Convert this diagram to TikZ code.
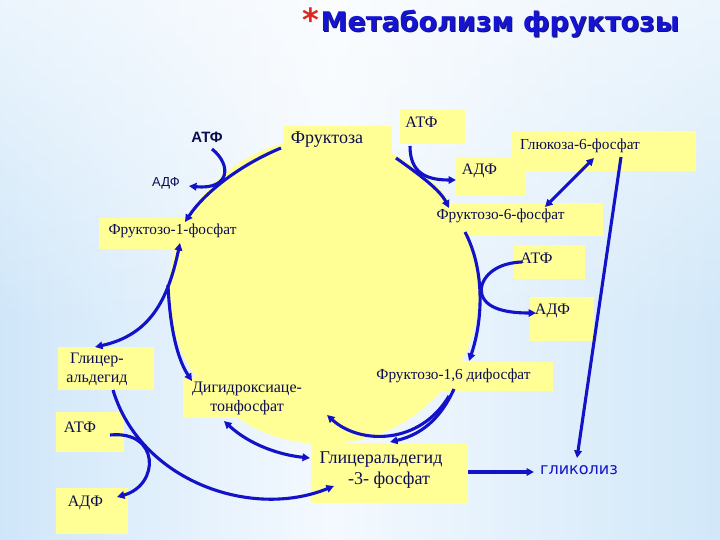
\documentclass[tikz,border=0pt]{standalone}
\usepackage{fontspec}
\setmainfont{Liberation Serif}
\newfontfamily\lsans{Liberation Sans}
\newfontfamily\dsans{DejaVu Sans}
\usetikzlibrary{arrows.meta,fadings}
\definecolor{bgL}{RGB}{165,208,242}
\definecolor{bgLm}{RGB}{212,233,250}
\definecolor{bgW}{RGB}{244,249,254}
\definecolor{bgRm}{RGB}{218,236,250}
\definecolor{bgR}{RGB}{178,216,244}
\definecolor{yel}{RGB}{255,255,150}
\definecolor{arr}{RGB}{18,18,200}
\definecolor{txt}{RGB}{12,12,80}
\definecolor{ttl}{RGB}{20,20,210}
\definecolor{ttlsh}{RGB}{20,20,90}
\definecolor{star}{RGB}{220,40,30}
\pgfdeclarehorizontalshading{bgsh}{100bp}{color(0bp)=(bgL); color(28bp)=(bgLm); color(48bp)=(bgW); color(68bp)=(bgRm); color(100bp)=(bgR)}
\tikzset{
  tip/.tip={Triangle[length=7.5pt,width=7.5pt]},
  conn/.style={draw=arr, line width=3.1pt, -tip},
  dconn/.style={draw=arr, line width=3.1pt, tip-tip},
  lbl/.style={font=\fontsize{16}{19}\selectfont, text=txt, inner sep=0pt, align=center},
  lbls/.style={font=\fontsize{15.3}{19}\selectfont, text=txt, inner sep=0pt, align=center},
  lblb/.style={font=\fontsize{18}{21}\selectfont, text=txt, inner sep=0pt, align=center},
  ybox/.style={fill=yel},
}
\begin{document}
\begin{tikzpicture}[x=1pt,y=-1pt]
\useasboundingbox (0,0) rectangle (720,540);
% background
\shade[shading=bgsh] (0,0) rectangle (720,540);
\fill[white, opacity=0.6, path fading=south] (0,0) rectangle (720,330);
% title
\node[font=\dsans\bfseries\fontsize{32}{32}\selectfont, text=star, inner sep=0pt] (ast) at (311,20) {*};
\node[font=\dsans\bfseries\fontsize{27}{30}\selectfont, text=ttlsh, inner sep=0pt, anchor=base] (titlesh) at (501,33) {Метаболизм фруктозы};
\node[font=\dsans\bfseries\fontsize{27}{30}\selectfont, text=ttl, inner sep=0pt, anchor=base] (title) at (500,32) {Метаболизм фруктозы};
% circle
\fill[yel] (324,291) ellipse [x radius=155pt, y radius=153pt];
% boxes
\fill[ybox] (283,126) rectangle (392,160);
\fill[ybox] (400,109) rectangle (465,144);
\fill[ybox] (512,131) rectangle (696,171);
\fill[ybox] (456,157) rectangle (525,195);
\fill[ybox] (433,203) rectangle (603,236);
\fill[ybox] (99,218) rectangle (242,249);
\fill[ybox] (514,245) rectangle (585,279);
\fill[ybox] (530,297) rectangle (594,341);
\fill[ybox] (366,362) rectangle (553,391);
\fill[ybox] (58,347) rectangle (154,390);
\fill[ybox] (183,377) rectangle (318,418);
\fill[ybox] (56,412) rectangle (124,452);
\fill[ybox] (56,488) rectangle (128,534);
\fill[ybox] (311,443) rectangle (468,503);
% labels
\node[lblb] (fru) at (327,140) {Фруктоза};
\node[lbl] (atp1) at (421.5,122.5) {АТФ};
\node[lbls] (g6p) at (580,146) {Глюкоза-6-фосфат};
\node[lbl] (adp1) at (479.5,171) {АДФ};
\node[lbls] (f6p) at (500.5,216) {Фруктозо-6-фосфат};
\node[lbls] (f1p) at (172.5,231) {Фруктозо-1-фосфат};
\node[font=\lsans\bfseries\fontsize{15}{18}\selectfont, text=txt, inner sep=0pt] (atp0) at (207,137.5) {АТФ};
\node[font=\lsans\fontsize{13}{16}\selectfont, text=txt, inner sep=0pt] (adp0) at (166,183) {АДФ};
\node[lbl] (atp2) at (536.5,258) {АТФ};
\node[lbl] (adp2) at (552.5,311) {АДФ};
\node[lbls] (fbp) at (453.5,376) {Фруктозо-1,6 дифосфат};
\node[lbl] (gal) at (97,369.5) {Глицер-\\альдегид};
\node[lbl] (dhap) at (247,398) {Дигидроксиаце-\\тонфосфат};
\node[lbl] (atp3) at (80,427) {АТФ};
\node[lbl] (adp3) at (85.5,503) {АДФ};
\node[lblb] (g3p) at (381,470.5) {Глицеральдегид\\\hspace*{16pt}-3- фосфат};
\node[font=\dsans\fontsize{16}{19}\selectfont, text=arr, inner sep=0pt] (gly) at (579,470) {гликолиз};
% connector end points
\coordinate (c1s) at (281,148);  \coordinate (c1e) at (185,222);
\coordinate (c2s) at (212,149);  \coordinate (c2e) at (189,186);
\coordinate (c3s) at (396,158);  \coordinate (c3e) at (449,208);
\coordinate (c4s) at (410,146);  \coordinate (c4e) at (456,180);
\coordinate (c5s) at (594,158);  \coordinate (c5e) at (545,207);
\coordinate (c6s) at (621,157);  \coordinate (c6e) at (577,458);
\coordinate (c7s) at (465,232);  \coordinate (c7e) at (469,361);
\coordinate (c8s) at (522,262);  \coordinate (c8m) at (482,295); \coordinate (c8e) at (536,313);
\coordinate (c9s) at (454,389);  \coordinate (c9e) at (390,442);
\coordinate (c10s) at (449,396); \coordinate (c10e) at (327,415);
\coordinate (c11s) at (180,243); \coordinate (c11e) at (95,347);
\coordinate (c12s) at (168,285); \coordinate (c12e) at (192,381);
\coordinate (c13s) at (224,421); \coordinate (c13e) at (310,458);
\coordinate (c14s) at (113,390); \coordinate (c14e) at (334,486);
\coordinate (c15s) at (110,435); \coordinate (c15e) at (117,497);
\coordinate (c16s) at (468,472); \coordinate (c16e) at (534,472);
% connectors
\draw[conn] (c1s) .. controls (240,165) and (205,192) .. (c1e);
\draw[conn] (c2s) .. controls (232,165) and (230,190) .. (c2e);
\draw[conn] (c3s) .. controls (420,175) and (440,190) .. (c3e);
\draw[conn] (c4s) .. controls (410,172) and (425,180) .. (c4e);
\draw[dconn] (c5s) -- (c5e);
\draw[conn] (c6s) -- (c6e);
\draw[conn] (c7s) .. controls (485,270) and (483,320) .. (c7e);
\draw[conn] (c8s) .. controls (490,263) and (478,283) .. (c8m) .. controls (487,310) and (510,313) .. (c8e);
\draw[conn] (c9s) .. controls (440,420) and (420,435) .. (c9e);
\draw[conn] (c10s) .. controls (420,445) and (360,445) .. (c10e);
\draw[dconn] (c11s) .. controls (168,300) and (150,335) .. (c11e);
\draw[conn] (c12s) .. controls (170,330) and (178,360) .. (c12e);
\draw[dconn] (c13s) .. controls (250,445) and (280,455) .. (c13e);
\draw[conn] (c14s) .. controls (140,480) and (250,520) .. (c14e);
\draw[conn] (c15s) .. controls (160,430) and (160,485) .. (c15e);
\draw[conn] (c16s) -- (c16e);
\end{tikzpicture}
\end{document}
